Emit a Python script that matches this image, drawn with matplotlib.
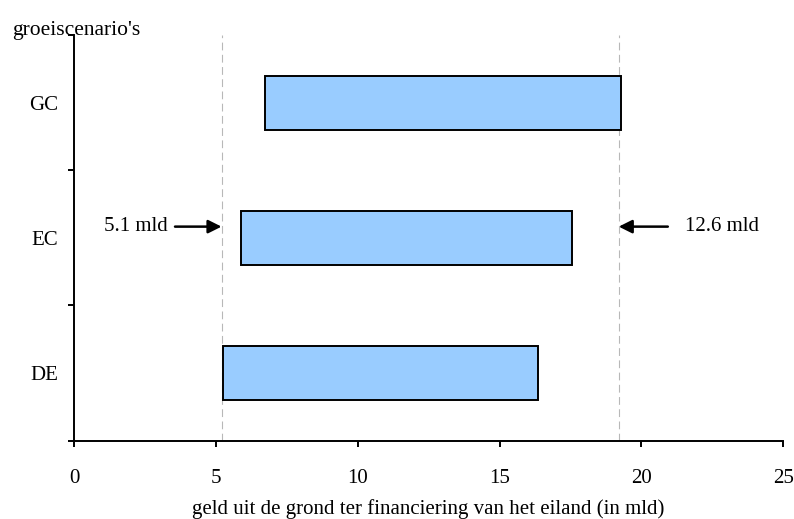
import matplotlib
matplotlib.use("Agg")
import matplotlib.pyplot as plt

# Growth scenarios and the range of land revenue (billion) per scenario
scenarios = ["DE", "EC", "GC"]
low = [5.25, 5.9, 6.73]
high = [16.36, 17.54, 19.28]

# Reference lines and their annotations
ref_left = 5.2
ref_right = 19.2
label_left = "5.1 mld"
label_right = "12.6 mld"

xticks = [0, 5, 10, 15, 20, 25]

plt.rcParams["font.family"] = ["Liberation Serif", "DejaVu Serif"]
FS = 15

fig = plt.figure(figsize=(7.94, 5.19), dpi=100)
ax = fig.add_axes([74 / 794, 1 - 440.7 / 519, (783.3 - 74) / 794, (440.7 - 35) / 519])

ypos = [i + 0.5 for i in range(len(scenarios))]
widths = [h - l for l, h in zip(low, high)]
ax.barh(ypos, widths, left=low, height=0.40, color="#99CCFF",
        edgecolor="black", linewidth=1.4, zorder=3)

for xv in (ref_left, ref_right):
    ax.axvline(xv, color="#b8b8b8", linestyle=(0, (7, 4)), linewidth=0.8, zorder=1)

ax.set_xlim(0, 25)
ax.set_ylim(0, 3)
ax.set_xticks(xticks)
ax.set_xticklabels([str(v) for v in xticks], fontsize=FS)
ax.set_yticks([0, 1, 2, 3])
ax.set_yticklabels([])
ax.set_yticks(ypos, minor=True)
ax.set_yticklabels(scenarios, minor=True, fontsize=FS)
ax.tick_params(axis="y", which="minor", length=0, pad=11.5)
ax.tick_params(axis="y", which="major", length=4, width=1.4, direction="out")
ax.tick_params(axis="x", length=4, width=1.4, direction="out", pad=16.5)

for side in ("top", "right"):
    ax.spines[side].set_visible(False)
for side in ("left", "bottom"):
    ax.spines[side].set_linewidth(1.4)

ax.set_xlabel("geld uit de grond ter financiering van het eiland (in mld)",
              fontsize=FS, labelpad=8)

arrow_y = 1.583
arrow_kw = dict(arrowstyle="-|>", color="black", lw=1.8,
                mutation_scale=20, shrinkA=0, shrinkB=0)
ax.annotate("", xy=(ref_left, arrow_y), xytext=(3.56, arrow_y), arrowprops=arrow_kw)
ax.text(3.32, arrow_y, label_left, ha="right", va="center", fontsize=FS)
ax.annotate("", xy=(ref_right, arrow_y), xytext=(20.93, arrow_y), arrowprops=arrow_kw)
ax.text(21.55, arrow_y, label_right, ha="left", va="center", fontsize=FS)

fig.text(12 / 794, 1 - 35 / 519, "groeiscenario's", fontsize=15.5,
         ha="left", va="baseline")

fig.savefig("out.png", dpi=100)
